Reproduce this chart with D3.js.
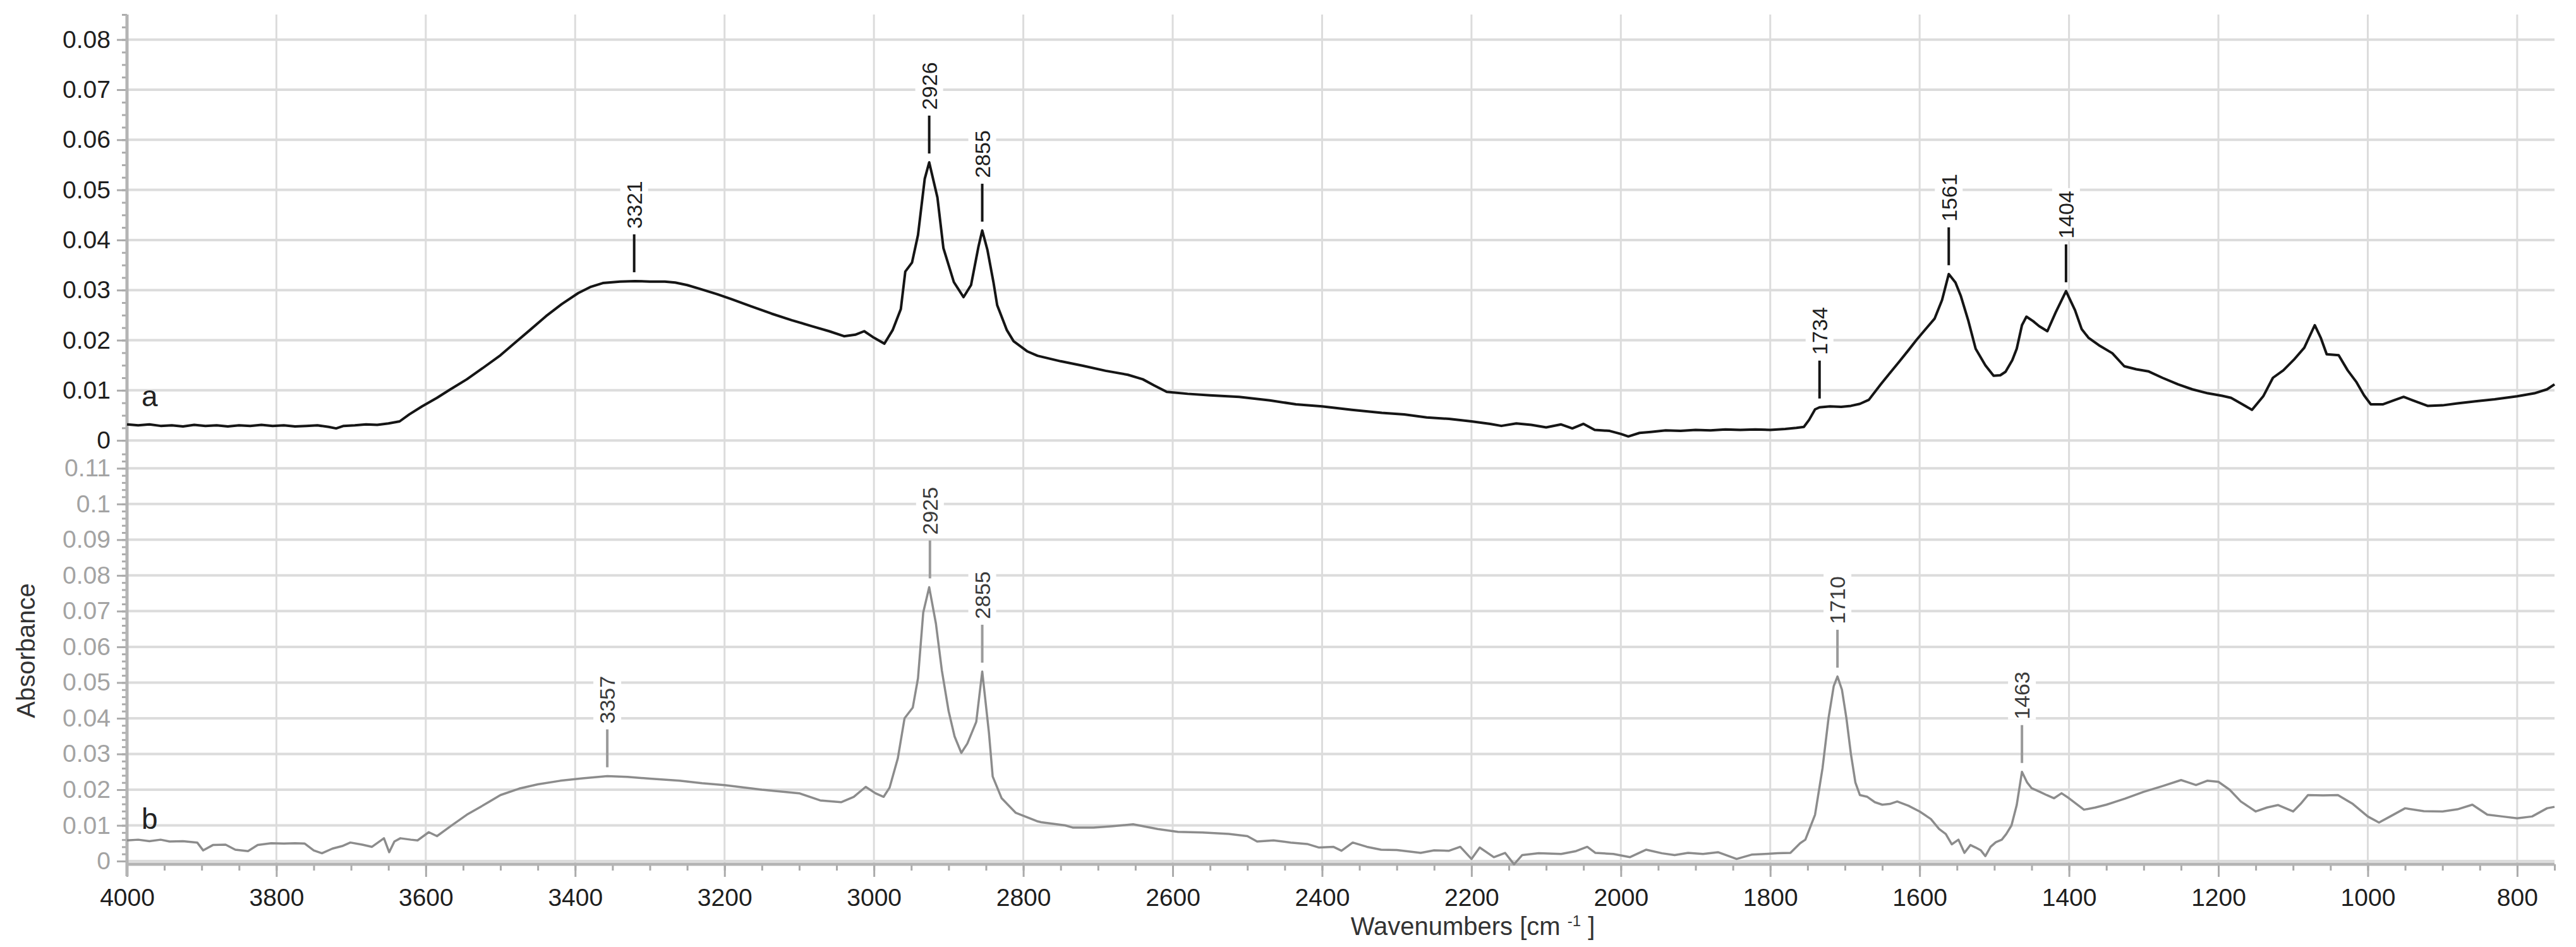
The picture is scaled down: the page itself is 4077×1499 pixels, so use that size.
<!DOCTYPE html>
<html>
<head>
<meta charset="utf-8">
<script src="https://d3js.org/d3.v7.min.js"></script>
<style>
  body { margin: 0; background: #fff; }
  text { font-family: "Liberation Sans", Arial, sans-serif; }
</style>
</head>
<body>
<div id="chart"></div>
<script>
// spectrum a (top panel)
var waveA = [4000,3985,3970,3955,3940,3925,3910,3895,3880,3865,3850,3835,3820,3805,3790,3775,3760,3745,3730,3720,3710,3695,3680,3665,3650,3635,3622,3605,3585,3568,3545,3525,3500,3482,3460,3439,3418,3396,3380,3363,3340,3320,3300,3280,3266,3250,3234,3210,3191,3165,3137,3110,3083,3060,3040,3025,3013,3000,2986,2975,2964,2958,2949,2941,2932,2926,2915,2907,2893,2880,2870,2860,2855,2848,2840,2835,2822,2813,2795,2781,2750,2720,2690,2660,2640,2625,2608,2580,2550,2511,2470,2435,2400,2360,2320,2290,2260,2230,2200,2175,2160,2140,2120,2100,2080,2065,2050,2035,2015,2000,1990,1975,1960,1940,1920,1900,1880,1860,1840,1820,1800,1780,1765,1755,1748,1740,1734,1720,1705,1692,1680,1668,1652,1640,1628,1615,1604,1592,1580,1570,1561,1552,1545,1535,1525,1512,1501,1492,1485,1476,1470,1463,1457,1448,1440,1429,1418,1404,1392,1383,1374,1360,1342,1326,1310,1294,1275,1254,1235,1214,1195,1183,1170,1155,1140,1127,1113,1099,1085,1071,1063,1055,1039,1027,1015,1005,996,980,965,952,940,920,900,880,856,830,800,777,760,750];
var absA = [.0032,.0030,.0032,.0029,.0030,.0028,.0031,.0029,.0030,.0028,.0030,.0029,.0031,.0029,.0030,.0028,.0029,.0030,.0027,.0024,.0029,.0030,.0032,.0031,.0034,.0038,.0052,.0068,.0085,.0101,.0122,.0143,.0170,.0193,.0221,.0248,.0272,.0294,.0306,.0314,.0317,.0318,.0317,.0317,.0315,.0310,.0303,.0292,.0282,.0268,.0253,.0240,.0228,.0218,.0208,.0211,.0218,.0205,.0193,.0220,.0262,.0337,.0355,.0410,.0522,.0555,.0485,.0384,.0316,.0286,.0310,.0387,.0419,.0380,.0316,.0270,.0220,.0198,.0178,.0169,.0158,.0149,.0139,.0131,.0122,.0110,.0097,.0093,.0090,.0087,.0080,.0072,.0068,.0061,.0055,.0052,.0046,.0043,.0038,.0033,.0029,.0034,.0031,.0026,.0032,.0024,.0033,.0021,.0019,.0013,.0008,.0015,.0017,.0020,.0019,.0021,.0020,.0022,.0021,.0022,.0021,.0023,.0025,.0027,.0041,.0062,.0066,.0068,.0067,.0069,.0073,.0081,.0112,.0134,.0156,.0180,.0201,.0222,.0243,.0280,.0332,.0315,.0289,.0240,.0183,.0150,.0129,.0130,.0137,.0160,.0183,.0230,.0247,.0238,.0228,.0218,.0255,.0298,.0260,.0222,.0205,.0190,.0174,.0148,.0142,.0138,.0125,.0112,.0102,.0094,.0089,.0085,.0074,.0061,.0088,.0125,.0140,.0161,.0185,.0230,.0205,.0172,.0170,.0140,.0116,.0090,.0072,.0072,.0080,.0087,.0080,.0069,.0070,.0074,.0078,.0082,.0088,.0094,.0102,.0112];

// spectrum b (bottom panel)
var waveB = [4000,3985,3970,3955,3943,3925,3906,3898,3885,3868,3855,3838,3825,3807,3790,3775,3762,3750,3739,3725,3712,3701,3685,3672,3656,3649,3642,3634,3620,3611,3596,3585,3566,3545,3520,3500,3475,3450,3420,3390,3357,3330,3300,3260,3230,3200,3150,3100,3072,3044,3027,3011,2998,2987,2979,2968,2959,2948,2941,2934,2926,2917,2909,2900,2892,2883,2875,2863,2855,2846,2841,2829,2810,2782,2776,2744,2734,2706,2680,2653,2620,2593,2560,2525,2500,2487,2465,2442,2420,2404,2385,2374,2359,2340,2321,2300,2268,2250,2230,2215,2200,2189,2170,2155,2143,2132,2110,2080,2060,2045,2034,2010,1988,1966,1945,1928,1910,1890,1870,1845,1825,1807,1790,1773,1760,1753,1740,1730,1722,1715,1710,1704,1698,1692,1686,1680,1670,1660,1650,1640,1630,1615,1600,1585,1574,1565,1557,1548,1540,1532,1525,1518,1512,1505,1498,1490,1484,1477,1470,1463,1456,1450,1440,1430,1420,1410,1400,1390,1380,1365,1350,1325,1300,1275,1250,1240,1230,1215,1200,1185,1170,1150,1135,1120,1100,1090,1080,1060,1040,1020,1000,985,970,950,925,900,880,860,840,820,800,780,760,750];
var absB = [.0058,.0060,.0056,.0060,.0055,.0056,.0052,.0030,.0045,.0046,.0032,.0028,.0045,.0050,.0049,.0050,.0049,.0030,.0022,.0035,.0042,.0052,.0046,.0040,.0064,.0025,.0055,.0064,.0060,.0058,.0081,.0070,.0099,.0130,.0160,.0185,.0203,.0215,.0225,.0232,.0238,.0236,.0231,.0225,.0218,.0213,.0200,.0190,.0170,.0165,.0180,.0208,.0190,.0180,.0206,.0288,.0400,.0430,.0512,.0696,.0767,.0665,.0533,.0420,.0349,.0303,.0329,.0390,.0531,.0359,.0237,.0176,.0135,.0112,.0109,.0100,.0094,.0094,.0098,.0103,.0090,.0082,.0080,.0076,.0070,.0055,.0058,.0052,.0048,.0038,.0040,.0029,.0052,.0040,.0032,.0031,.0023,.0030,.0029,.0040,.0006,.0038,.0011,.0023,-.0009,.0017,.0022,.0020,.0028,.0040,.0023,.0020,.0011,.0032,.0022,.0017,.0023,.0020,.0025,.0006,.0018,.0020,.0022,.0023,.0050,.0060,.0130,.0260,.0400,.0490,.0517,.0480,.0400,.0300,.0220,.0185,.0180,.0165,.0158,.0160,.0167,.0155,.0139,.0118,.0090,.0076,.0047,.0060,.0023,.0045,.0038,.0030,.0014,.0040,.0053,.0060,.0076,.0100,.0157,.0250,.0220,.0204,.0195,.0185,.0176,.0190,.0176,.0160,.0144,.0150,.0158,.0175,.0194,.0210,.0227,.0220,.0213,.0225,.0222,.0200,.0167,.0139,.0150,.0157,.0139,.0160,.0185,.0184,.0185,.0160,.0125,.0108,.0125,.0148,.0140,.0139,.0145,.0158,.0130,.0125,.0120,.0125,.0148,.0152];

// labelled peaks
var peakWaveA = [3321, 2926, 2855, 1734, 1561, 1404];
var peakAbsA = [.0318, .0555, .0419, .0066, .0332, .0298];
var peakWaveB = [3357, 2925, 2855, 1710, 1463];
var peakAbsB = [.0238, .0767, .0531, .0517, .0250];

// tick labels
var xTicks = [4000, 3800, 3600, 3400, 3200, 3000, 2800, 2600, 2400, 2200, 2000, 1800, 1600, 1400, 1200, 1000, 800];
var yTicksA = [0, 0.01, 0.02, 0.03, 0.04, 0.05, 0.06, 0.07, 0.08];
var yTicksB = [0, 0.01, 0.02, 0.03, 0.04, 0.05, 0.06, 0.07, 0.08, 0.09, 0.1, 0.11];

var svgWidth = 4077;
var svgHeight = 1499;
var plotLeft = 201, plotRight = 4043;
var plotTop = 23, panelSplit = 713, plotBottom = 1367;

var svg = d3.select("#chart")
  .append("svg")
  .attr("width", svgWidth)
  .attr("height", svgHeight)
  .style("display", "block");

var x = d3.scaleLinear().domain([4000, 750]).range([plotLeft, plotRight]);
var yA = d3.scaleLinear().domain([-0.002, 0.085]).range([panelSplit, plotTop]);
var yB = d3.scaleLinear().domain([-0.0007, 0.115]).range([plotBottom, panelSplit]);

var fmt = function(d) { return String(+d.toFixed(2)); };

// grid
var grid = svg.append("g").attr("stroke", "#dcdcdc");
grid.selectAll(".vgrid")
  .data(xTicks)
  .enter()
  .append("line")
  .attr("x1", d => x(d)).attr("x2", d => x(d))
  .attr("y1", plotTop).attr("y2", plotBottom)
  .attr("stroke-width", 3);
grid.selectAll(".hgridA")
  .data(yTicksA)
  .enter()
  .append("line")
  .attr("x1", plotLeft).attr("x2", plotRight)
  .attr("y1", d => yA(d)).attr("y2", d => yA(d))
  .attr("stroke-width", 4);
grid.selectAll(".hgridB")
  .data(yTicksB)
  .enter()
  .append("line")
  .attr("x1", plotLeft).attr("x2", plotRight)
  .attr("y1", d => yB(d)).attr("y2", d => yB(d))
  .attr("stroke-width", 4);

// axes
function styleAxis(g, color) {
  g.select(".domain").remove();
  g.selectAll(".tick line").attr("stroke", "#ababab").attr("stroke-width", 3);
  g.selectAll(".tick text")
    .attr("fill", color)
    .style("font-size", "39px")
    .style("font-family", "'Liberation Sans', Arial, sans-serif");
}

function minorRange(lo, hi, step) {
  return d3.range(Math.ceil(lo / step), Math.floor(hi / step) + 1).map(k => +(k * step).toFixed(5));
}

var axisA = svg.append("g")
  .attr("transform", "translate(" + plotLeft + ",0)")
  .call(d3.axisLeft(yA).tickValues(yTicksA).tickSize(16).tickPadding(10).tickFormat(fmt));
styleAxis(axisA, "#1e1e1e");
svg.append("g")
  .attr("transform", "translate(" + plotLeft + ",0)")
  .call(d3.axisLeft(yA).tickValues(minorRange(-0.002, 0.085, 0.0025)).tickSize(8).tickFormat(""))
  .call(g => styleAxis(g, "none"));

var axisB = svg.append("g")
  .attr("transform", "translate(" + plotLeft + ",0)")
  .call(d3.axisLeft(yB).tickValues(yTicksB).tickSize(16).tickPadding(10).tickFormat(fmt));
styleAxis(axisB, "#a3a3a3");
svg.append("g")
  .attr("transform", "translate(" + plotLeft + ",0)")
  .call(d3.axisLeft(yB).tickValues(minorRange(0, 0.115, 0.002)).tickSize(8).tickFormat(""))
  .call(g => styleAxis(g, "none"));

var xAxis = svg.append("g")
  .attr("transform", "translate(0," + (plotBottom + 1) + ")")
  .call(d3.axisBottom(x).tickValues(xTicks).tickSize(20).tickPadding(18).tickFormat(d3.format("d")));
styleAxis(xAxis, "#1e1e1e");
svg.append("g")
  .attr("transform", "translate(0," + (plotBottom + 1) + ")")
  .call(d3.axisBottom(x).tickValues(minorRange(750, 4000, 50)).tickSize(10).tickFormat(""))
  .call(g => styleAxis(g, "none"));

// axis lines
svg.append("line")
  .attr("x1", plotLeft).attr("x2", plotLeft)
  .attr("y1", plotTop).attr("y2", plotBottom + 20)
  .attr("stroke", "#b4b4b4").attr("stroke-width", 5);
svg.append("line")
  .attr("x1", plotLeft).attr("x2", plotRight)
  .attr("y1", plotBottom + 1).attr("y2", plotBottom + 1)
  .attr("stroke", "#b4b4b4").attr("stroke-width", 5);

// spectra
var lineA = d3.line().x(d => x(d[0])).y(d => yA(d[1]));
var lineB = d3.line().x(d => x(d[0])).y(d => yB(d[1]));

svg.append("path")
  .datum(d3.zip(waveB, absB))
  .attr("d", lineB)
  .attr("fill", "none")
  .attr("stroke", "#8c8c8c")
  .attr("stroke-width", 3.5)
  .attr("stroke-linejoin", "round");

svg.append("path")
  .datum(d3.zip(waveA, absA))
  .attr("d", lineA)
  .attr("fill", "none")
  .attr("stroke", "#151515")
  .attr("stroke-width", 4)
  .attr("stroke-linejoin", "round");

// peak markers
function drawPeaks(waves, values, yScale, lineColor, textColor) {
  var g = svg.append("g");
  var peaks = g.selectAll("g")
    .data(d3.zip(waves, values))
    .enter()
    .append("g")
    .attr("transform", d => "translate(" + x(d[0]) + "," + yScale(d[1]) + ")");
  peaks.append("line")
    .attr("x1", 0).attr("x2", 0)
    .attr("y1", -14).attr("y2", -74)
    .attr("stroke", lineColor)
    .attr("stroke-width", 4);
  peaks.append("rect")
    .attr("x", -22).attr("y", -163)
    .attr("width", 44).attr("height", 80)
    .attr("fill", "#fff");
  peaks.append("text")
    .attr("transform", "translate(0,-83) rotate(-90)")
    .attr("text-anchor", "start")
    .attr("dy", "0.36em")
    .attr("fill", textColor)
    .style("font-size", "34px")
    .text(d => d[0]);
}
drawPeaks(peakWaveA, peakAbsA, yA, "#151515", "#1e1e1e");
drawPeaks(peakWaveB, peakAbsB, yB, "#9a9a9a", "#3a3a3a");

// series letters
svg.append("text")
  .attr("x", 224).attr("y", 643)
  .attr("fill", "#222")
  .style("font-size", "46px")
  .text("a");
svg.append("text")
  .attr("x", 224).attr("y", 1312)
  .attr("fill", "#222")
  .style("font-size", "46px")
  .text("b");

// axis titles
svg.append("text")
  .attr("transform", "translate(55,1030) rotate(-90)")
  .attr("text-anchor", "middle")
  .attr("fill", "#333")
  .style("font-size", "40px")
  .text("Absorbance");

var xTitle = svg.append("text")
  .attr("x", 2331).attr("y", 1480)
  .attr("text-anchor", "middle")
  .attr("fill", "#333")
  .style("font-size", "40px");
xTitle.append("tspan").text("Wavenumbers [cm ");
xTitle.append("tspan").attr("dy", -14).style("font-size", "24px").text("-1");
xTitle.append("tspan").attr("dy", 14).text(" ]");
</script>
</body>
</html>
